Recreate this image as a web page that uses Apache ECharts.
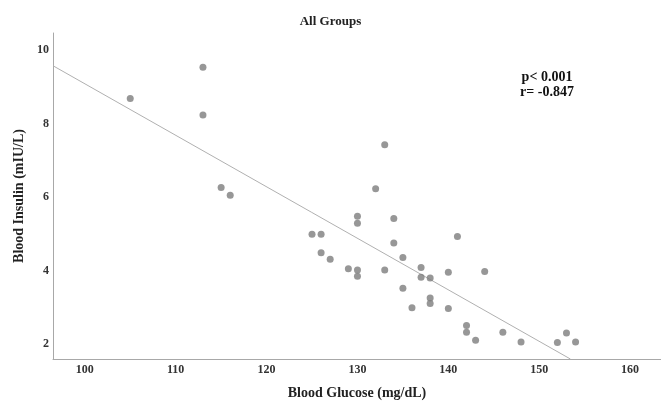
<!DOCTYPE html>
<html>
<head>
<meta charset="utf-8">
<script src="https://cdn.jsdelivr.net/npm/echarts@6/dist/echarts.min.js"></script>
<style>
html,body{margin:0;padding:0;background:#fff;}
#chart{width:661px;height:405px;}
</style>
</head>
<body>
<div id="chart"></div>
<script>
// Blood glucose (mg/dL) of each subject
const glucose = [105, 113, 113, 115, 116, 125, 126, 126, 127, 129, 130, 130, 130, 130, 132, 133, 133, 134, 134, 135, 135, 136, 137, 137, 138, 138, 138, 140, 140, 141, 142, 142, 143, 144, 146, 148, 152, 153, 154];
// Blood insulin (mIU/L) of each subject
const insulin = [8.68, 9.53, 8.23, 6.26, 6.05, 4.99, 4.99, 4.49, 4.31, 4.05, 5.48, 5.29, 4.02, 3.85, 6.23, 7.42, 4.02, 5.42, 4.75, 4.36, 3.52, 2.99, 4.09, 3.82, 3.80, 3.26, 3.11, 3.96, 2.97, 4.93, 2.51, 2.33, 2.11, 3.98, 2.33, 2.06, 2.05, 2.31, 2.06];
// Fit line: insulin = intercept + slope * glucose
const fitIntercept = 23.08;
const fitSlope = -0.140;
const xTickLabels = [100, 110, 120, 130, 140, 150, 160];
const yTickLabels = [2, 4, 6, 8, 10];
const titleText = 'All Groups';
const statsText = ['p< 0.001', 'r= -0.847'];

const xMin = 96.5, xMax = 163.4, yMin = 1.6, yMax = 10.46;
const points = glucose.map((g, i) => [g, insulin[i]]);
const xEnd = (yMin - fitIntercept) / fitSlope;
const fitLine = [[xMin, fitIntercept + fitSlope * xMin], [xEnd, fitIntercept + fitSlope * xEnd]];

const serif = '"Liberation Serif", "DejaVu Serif", serif';
const chart = echarts.init(document.getElementById('chart'), null, {renderer: 'canvas'});
chart.setOption({
  animation: false,
  backgroundColor: '#fff',
  title: {
    text: titleText,
    left: 'center',
    top: 10,
    textStyle: {fontFamily: serif, fontWeight: 'bold', fontSize: 13, color: '#222'}
  },
  grid: {left: 53, right: 0, top: 33, bottom: 43, containLabel: false},
  xAxis: {
    type: 'value',
    min: xMin, max: xMax,
    name: 'Blood Glucose (mg/dL)',
    nameLocation: 'middle',
    nameGap: 27,
    nameTextStyle: {fontFamily: serif, fontWeight: 'bold', fontSize: 14, color: '#222'},
    axisLine: {show: true, lineStyle: {color: '#a8a8a8', width: 1}},
    axisTick: {show: false},
    splitLine: {show: false},
    axisLabel: {
      margin: 5,
      showMinLabel: false, showMaxLabel: false,
      fontFamily: serif, fontWeight: 'bold', fontSize: 12, color: '#333',
      formatter: v => xTickLabels.includes(Math.round(v * 1000) / 1000) ? String(Math.round(v)) : ''
    }
  },
  yAxis: {
    type: 'value',
    min: yMin, max: yMax,
    name: 'Blood Insulin (mIU/L)',
    nameLocation: 'middle',
    nameGap: 26,
    nameTextStyle: {fontFamily: serif, fontWeight: 'bold', fontSize: 14, color: '#222'},
    axisLine: {show: true, lineStyle: {color: '#a8a8a8', width: 1}},
    axisTick: {show: false},
    splitLine: {show: false},
    axisLabel: {
      margin: 4,
      showMinLabel: false, showMaxLabel: false,
      fontFamily: serif, fontWeight: 'bold', fontSize: 12, color: '#333',
      formatter: v => yTickLabels.includes(Math.round(v * 1000) / 1000) ? String(Math.round(v)) : ''
    }
  },
  graphic: [{
    type: 'text',
    x: 547,
    y: 70,
    style: {
      text: statsText.join('\n'),
      font: 'bold 14px ' + serif,
      fill: '#111',
      align: 'center',
      verticalAlign: 'top',
      lineHeight: 15
    }
  }],
  series: [
    {
      type: 'line',
      data: fitLine,
      symbol: 'none',
      lineStyle: {color: '#b0b0b0', width: 1},
      z: 1,
      silent: true
    },
    {
      type: 'scatter',
      data: points,
      symbol: 'circle',
      symbolSize: 7,
      itemStyle: {color: '#7d7d7d'},
      z: 2
    }
  ]
});
</script>
</body>
</html>
